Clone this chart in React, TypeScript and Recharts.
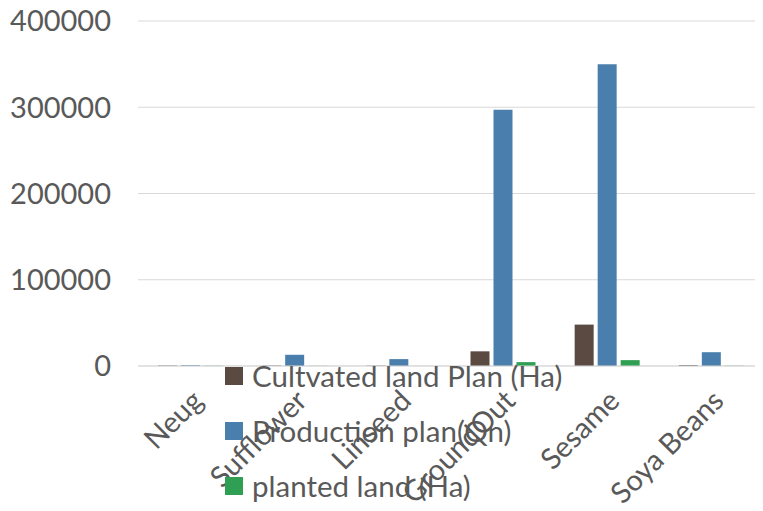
import { BarChart, Bar, XAxis, YAxis, CartesianGrid, Legend } from 'recharts';

const crops = ['Neug', 'Sufflower', 'Linseed', 'GroundOut', 'Sesame', 'Soya Beans'];
const cultivatedPlan = [500, 500, 400, 17000, 48000, 900];
const productionPlan = [900, 13000, 8000, 297000, 350000, 16000];
const plantedLand = [300, 200, 100, 4500, 6800, 300];
const yTicks = [0, 100000, 200000, 300000, 400000];

const series = [
  { key: 'cultivated', name: 'Cultvated land Plan (Ha)', color: '#5a4a42' },
  { key: 'production', name: 'Production plan(Qn)', color: '#4a7fad' },
  { key: 'planted', name: 'planted land (Ha)', color: '#2f9f53' },
];

const data = crops.map((name, i) => ({
  name,
  cultivated: cultivatedPlan[i],
  production: productionPlan[i],
  planted: plantedLand[i],
}));

const FONT = 'Lato, sans-serif';
const TEXT = '#595959';

function LegendBox() {
  return (
    <div style={{ fontFamily: FONT, color: TEXT, fontSize: 29.5 }}>
      {series.map((s) => (
        <div key={s.key} style={{ display: 'flex', alignItems: 'center', height: 55 }}>
          <span style={{ width: 18, height: 18, background: s.color, marginRight: 9, display: 'inline-block' }} />
          <span style={{ whiteSpace: 'nowrap' }}>{s.name}</span>
        </div>
      ))}
    </div>
  );
}

export default function App() {
  return (
    <div style={{ margin: -8, width: 763, height: 511, overflow: 'hidden', background: '#fff' }}>
      <BarChart
        width={763}
        height={511}
        data={data}
        margin={{ top: 21, right: 0, left: 0, bottom: 0 }}
        barSize={19}
        barGap={4}
      >
        <CartesianGrid vertical={false} stroke="#d9d9d9" />
        <XAxis
          dataKey="name"
          height={145}
          interval={0}
          axisLine={{ stroke: '#d9d9d9' }}
          tickLine={false}
          angle={-45}
          textAnchor="end"
          tickMargin={16}
          tick={{ fill: TEXT, fontSize: 29, fontFamily: FONT }}
        />
        <YAxis
          width={138}
          domain={[0, 400000]}
          ticks={yTicks}
          axisLine={false}
          tickLine={false}
          tickMargin={21}
          tick={{ fill: TEXT, fontSize: 29, fontFamily: FONT }}
        />
        <Legend
          layout="vertical"
          align="center"
          verticalAlign="middle"
          wrapperStyle={{ left: 225, top: 348, width: 'auto' }}
          content={() => <LegendBox />}
        />
        {series.map((s) => (
          <Bar key={s.key} dataKey={s.key} name={s.name} fill={s.color} isAnimationActive={false} />
        ))}
      </BarChart>
    </div>
  );
}
